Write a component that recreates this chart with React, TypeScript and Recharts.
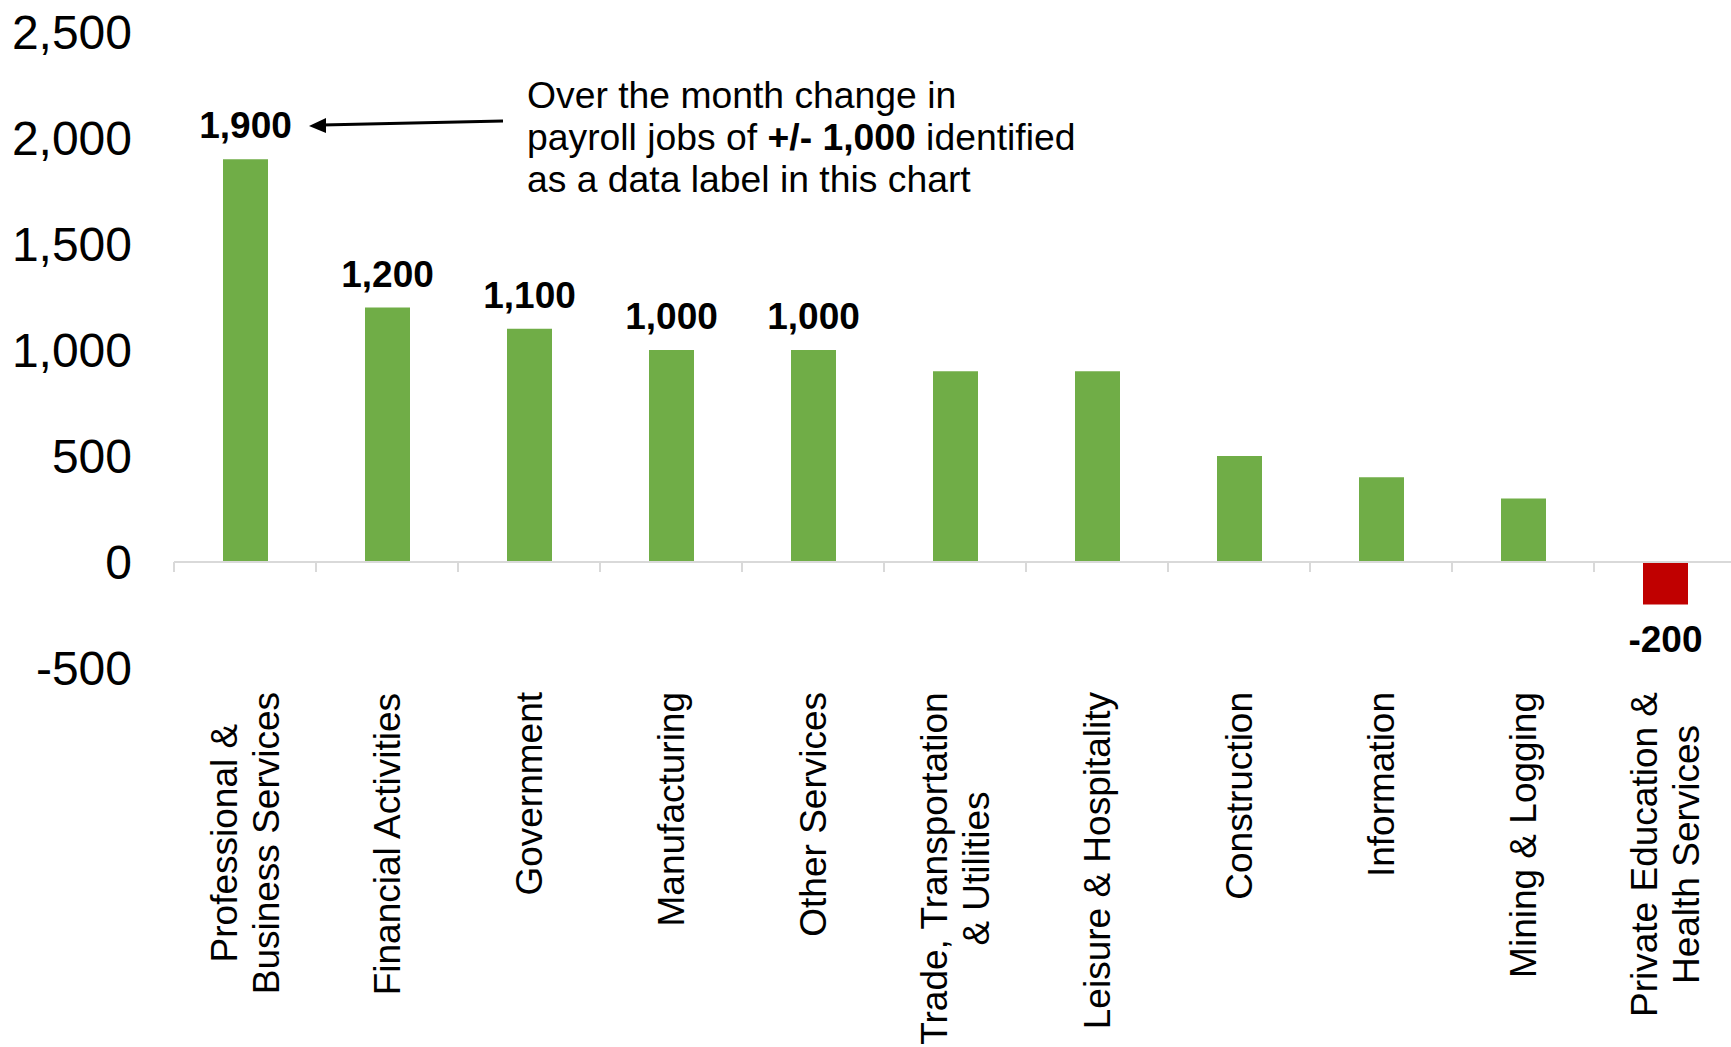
import React from 'react'
import {
  BarChart,
  Bar,
  XAxis,
  YAxis,
  Cell,
  LabelList,
  ReferenceLine,
} from 'recharts'

const CATEGORIES = [
  'Professional &\nBusiness Services',
  'Financial Activities',
  'Government',
  'Manufacturing',
  'Other Services',
  'Trade, Transportation\n& Utilities',
  'Leisure & Hospitality',
  'Construction',
  'Information',
  'Mining & Logging',
  'Private Education &\nHealth Services',
]

const CHANGE = [1900, 1200, 1100, 1000, 1000, 900, 900, 500, 400, 300, -200]

const Y_TICKS = [-500, 0, 500, 1000, 1500, 2000, 2500]

const FONT = '"Liberation Sans", Arial, sans-serif'
const GREEN = '#70AD47'
const RED = '#C00000'
const AXIS_GRAY = '#D9D9D9'

const data = CATEGORIES.map((name, i) => ({ name, value: CHANGE[i] }))

const fmt = (v: number) => v.toLocaleString('en-US')

let ctx: CanvasRenderingContext2D | null = null
function textWidth(s: string, size: number) {
  if (!ctx) ctx = document.createElement('canvas').getContext('2d')
  if (!ctx) return s.length * size * 0.5
  ctx.font = `${size}px "Liberation Sans", Arial, sans-serif`
  return ctx.measureText(s).width
}

const LABEL_SIZE = 37
const LINE_H = 42

function CategoryTick(props: any) {
  const { x, y, payload } = props
  const lines: string[] = String(payload.value).split('\n')
  const maxW = Math.max(...lines.map((l) => textWidth(l, LABEL_SIZE)))
  return (
    <g transform={`translate(${x},${y}) rotate(-90)`}>
      {lines.map((l, i) => (
        <text
          key={i}
          x={-maxW / 2}
          y={(i - (lines.length - 1) / 2) * LINE_H}
          dy="0.36em"
          textAnchor="middle"
          fontFamily={FONT}
          fontSize={LABEL_SIZE}
          fill="#000"
        >
          {l}
        </text>
      ))}
    </g>
  )
}

function ZeroAxis(props: any) {
  const { x1, x2, y1 } = props
  const n = CATEGORIES.length
  const step = (x2 - x1) / n
  return (
    <g>
      <line x1={x1} x2={x2} y1={y1} y2={y1} stroke={AXIS_GRAY} strokeWidth={2} />
      {Array.from({ length: n + 1 }, (_, k) => (
        <line
          key={k}
          x1={x1 + k * step}
          x2={x1 + k * step}
          y1={y1}
          y2={y1 + 10}
          stroke={AXIS_GRAY}
          strokeWidth={2}
        />
      ))}
    </g>
  )
}

export default function App() {
  return (
    <div
      style={{
        position: 'absolute',
        left: 0,
        top: 0,
        width: 1731,
        height: 1047,
        overflow: 'hidden',
        background: '#fff',
      }}
    >
      <BarChart
        width={1740}
        height={1047}
        data={data}
        margin={{ top: 32, right: 4, left: 0, bottom: 0 }}
      >
        <YAxis
          width={174}
          domain={[-500, 2500]}
          ticks={Y_TICKS}
          interval={0}
          axisLine={false}
          tickLine={false}
          tickSize={0}
          tickMargin={42}
          tickFormatter={fmt}
          tick={{ fontFamily: FONT, fontSize: 48, fill: '#000' }}
        />
        <XAxis
          dataKey="name"
          height={379}
          interval={0}
          axisLine={false}
          tickLine={false}
          tickSize={0}
          tickMargin={24}
          tick={<CategoryTick />}
        />
        <Bar dataKey="value" barSize={45} isAnimationActive={false}>
          {data.map((d, i) => (
            <Cell key={i} fill={d.value < 0 ? RED : GREEN} />
          ))}
          <LabelList
            dataKey="value"
            position="top"
            offset={21}
            formatter={(v: any) => (v >= 1000 || v < 0 ? fmt(v) : '')}
            style={{ fontFamily: FONT, fontSize: 37, fontWeight: 700, fill: '#000' }}
          />
        </Bar>
        <ReferenceLine y={0} shape={(p: any) => <ZeroAxis {...p} />} />
      </BarChart>
      <svg
        width={1731}
        height={1047}
        style={{ position: 'absolute', left: 0, top: 0, pointerEvents: 'none' }}
      >
        <line x1={503} y1={121} x2={322} y2={125} stroke="#000" strokeWidth={3} />
        <polygon points="309,126 326,118 326,133" fill="#000" />
        <text fontFamily={FONT} fontSize={37.3} fill="#000">
          <tspan x={527} y={108}>Over the month change in</tspan>
          <tspan x={527} y={150}>
            payroll jobs of <tspan fontWeight={700}>+/- 1,000</tspan> identified
          </tspan>
          <tspan x={527} y={192}>as a data label in this chart</tspan>
        </text>
      </svg>
    </div>
  )
}
